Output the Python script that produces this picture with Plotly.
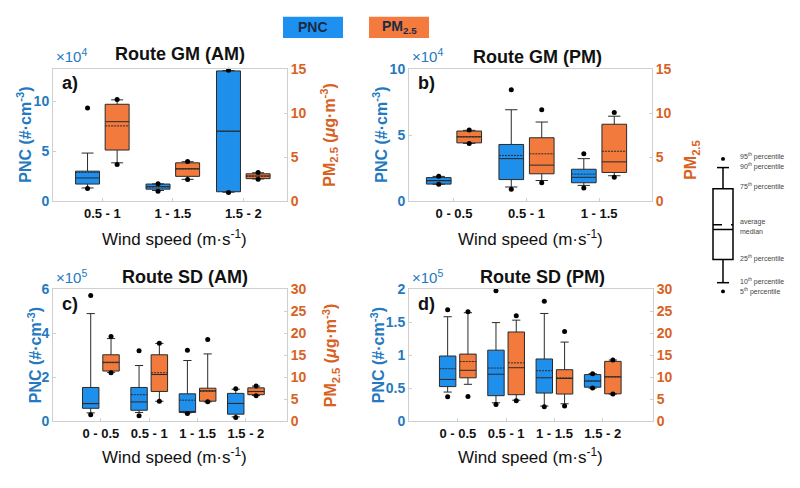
import plotly.graph_objects as go

# ---------------- DATA ----------------
# Panel a) Route GM (AM)   PNC in #/cm3, PM2.5 in ug/m3
A_CATS = ["0.5 - 1", "1 - 1.5", "1.5 - 2"]
A_PNC_P5 = [12900, 10300, 9000]
A_PNC_P10 = [13500, 11000, 9200]
A_PNC_Q1 = [17400, 12300, 9700]
A_PNC_MED = [23500, 14800, 70300]
A_PNC_MEAN = [29000, 14500, 70300]
A_PNC_Q3 = [30300, 17400, 130600]
A_PNC_P90 = [48400, 17600, 131000]
A_PNC_P95 = [93500, 17700, 131200]
A_PM_P5 = [4.19, 2.48, 2.50]
A_PM_P10 = [4.37, 2.50, 2.55]
A_PM_Q1 = [5.82, 2.84, 2.58]
A_PM_MED = [9.03, 3.71, 2.88]
A_PM_MEAN = [8.55, 3.65, 2.86]
A_PM_Q3 = [11.0, 4.37, 3.13]
A_PM_P90 = [11.5, 4.50, 3.25]
A_PM_P95 = [11.55, 4.52, 3.28]

# Panel b) Route GM (PM)
B_CATS = ["0 - 0.5", "0.5 - 1", "1 - 1.5"]
B_PNC_P5 = [12900, 9200, 10200]
B_PNC_P10 = [13000, 10900, 12100]
B_PNC_Q1 = [13100, 16500, 14100]
B_PNC_MED = [15800, 32300, 18200]
B_PNC_MEAN = [15500, 34700, 20600]
B_PNC_Q3 = [18000, 43000, 24300]
B_PNC_P90 = [18900, 69200, 32300]
B_PNC_P95 = [19000, 84200, 35900]
B_PM_P5 = [6.55, 2.11, 2.73]
B_PM_P10 = [6.57, 2.37, 2.91]
B_PM_Q1 = [6.63, 3.13, 3.28]
B_PM_MED = [7.32, 4.11, 4.48]
B_PM_MEAN = [7.30, 5.39, 5.68]
B_PM_Q3 = [7.97, 7.21, 8.74]
B_PM_P90 = [8.05, 8.99, 9.65]
B_PM_P95 = [8.08, 10.37, 10.08]

# Panel c) Route SD (AM)
C_CATS = ["0 - 0.5", "0.5 - 1", "1 - 1.5", "1.5 - 2"]
C_PNC_P5 = [28000, 24000, 34000, 16000]
C_PNC_P10 = [37000, 39000, 37000, 19000]
C_PNC_Q1 = [58000, 49000, 39000, 31000]
C_PNC_MED = [79000, 87000, 42000, 80000]
C_PNC_MEAN = [80000, 120000, 95000, 80000]
C_PNC_Q3 = [153000, 153000, 124000, 126000]
C_PNC_P90 = [490000, 253000, 276000, 145000]
C_PNC_P95 = [572000, 320000, 323000, 147000]
C_PM_P5 = [11.0, 4.5, 4.37, 5.78]
C_PM_P10 = [11.1, 4.5, 4.37, 5.80]
C_PM_Q1 = [11.4, 6.74, 4.52, 6.0]
C_PM_MED = [13.4, 10.6, 6.9, 6.74]
C_PM_MEAN = [13.3, 11.0, 6.74, 6.7]
C_PM_Q3 = [15.1, 15.1, 7.48, 7.56]
C_PM_P90 = [18.8, 17.7, 15.3, 7.95]
C_PM_P95 = [19.3, 17.75, 18.6, 8.0]

# Panel d) Route SD (PM)
D_CATS = ["0 - 0.5", "0.5 - 1", "1 - 1.5", "1.5 - 2"]
D_PNC_P5 = [37000, 25000, 21700, 50000]
D_PNC_P10 = [44000, 27700, 22700, 50000]
D_PNC_Q1 = [52300, 38500, 42500, 51400]
D_PNC_MED = [63200, 71100, 65700, 60700]
D_PNC_MEAN = [79500, 80500, 76500, 61000]
D_PNC_Q3 = [98800, 107700, 94300, 70600]
D_PNC_P90 = [158500, 149600, 163500, 72000]
D_PNC_P95 = [169000, 198000, 182200, 72000]
D_PM_P5 = [5.56, 4.6, 3.41, 6.15]
D_PM_P10 = [8.37, 4.74, 3.93, 6.15]
D_PM_Q1 = [9.85, 6.0, 6.15, 6.2]
D_PM_MED = [11.56, 12.15, 9.7, 10.1]
D_PM_MEAN = [13.56, 13.26, 9.85, 10.0]
D_PM_Q3 = [15.26, 20.3, 11.7, 13.6]
D_PM_P90 = [24.7, 23.0, 18.0, 13.9]
D_PM_P95 = [24.9, 24.0, 20.4, 13.9]

# Axis tick labels
A_LEFT_TICKS = [0, 50000, 100000]
A_LEFT_TEXT = ["0", "5", "10"]
B_LEFT_TICKS = [0, 50000, 100000]
B_LEFT_TEXT = ["0", "5", "10"]
C_LEFT_TICKS = [0, 200000, 400000, 600000]
C_LEFT_TEXT = ["0", "2", "4", "6"]
D_LEFT_TICKS = [0, 50000, 100000, 150000, 200000]
D_LEFT_TEXT = ["0", "0.5", "1", "1.5", "2"]

# ---------------- STYLE ----------------
W, H = 800, 488
FONT = "Arial, Liberation Sans, sans-serif"
BLUE_FILL = "#1f8fec"
ORANGE_FILL = "#f27a3c"
BLUE_TXT = "#2479bf"
ORANGE_TXT = "#d8621f"
FRAME = "#cfcfcf"
BOXLINE = "#2a2a2a"


def fx(p):
    return p / W


def fy(p):
    return 1 - p / H


panels = [
    dict(tag="a)", title="Route GM (AM)", xd=(53, 287), yd=(63, 200), xr=(-0.70, 2.62),
         cats=A_CATS, lr=(0, 132600), lt=A_LEFT_TICKS, ltt=A_LEFT_TEXT, rr=(0, 15), rd=5, exp="4",
         pnc=(A_PNC_P5, A_PNC_P10, A_PNC_Q1, A_PNC_MED, A_PNC_MEAN, A_PNC_Q3, A_PNC_P90, A_PNC_P95),
         pm=(A_PM_P5, A_PM_P10, A_PM_Q1, A_PM_MED, A_PM_MEAN, A_PM_Q3, A_PM_P90, A_PM_P95),
         title_xy=(180, 48), ly=(24, 131), ry=(329, 131), xt=(174, 238), rtitle=True),
    dict(tag="b)", title="Route GM (PM)", xd=(409, 652), yd=(63, 200), xr=(-0.62, 2.73),
         cats=B_CATS, lr=(0, 100000), lt=B_LEFT_TICKS, ltt=B_LEFT_TEXT, rr=(0, 15), rd=5, exp="4",
         pnc=(B_PNC_P5, B_PNC_P10, B_PNC_Q1, B_PNC_MED, B_PNC_MEAN, B_PNC_Q3, B_PNC_P90, B_PNC_P95),
         pm=(B_PM_P5, B_PM_P10, B_PM_Q1, B_PM_MED, B_PM_MEAN, B_PM_Q3, B_PM_P90, B_PM_P95),
         title_xy=(537, 51), ly=(380, 131), ry=None, xt=(530, 238), rtitle=False),
    dict(tag="c)", title="Route SD (AM)", xd=(53, 287), yd=(291, 427), xr=(-0.99, 3.85),
         cats=C_CATS, lr=(0, 600000), lt=C_LEFT_TICKS, ltt=C_LEFT_TEXT, rr=(0, 30), rd=5, exp="5",
         pnc=(C_PNC_P5, C_PNC_P10, C_PNC_Q1, C_PNC_MED, C_PNC_MEAN, C_PNC_Q3, C_PNC_P90, C_PNC_P95),
         pm=(C_PM_P5, C_PM_P10, C_PM_Q1, C_PM_MED, C_PM_MEAN, C_PM_Q3, C_PM_P90, C_PM_P95),
         title_xy=(185, 278), ly=(35, 359), ry=(331, 359), xt=(174, 463), rtitle=True),
    dict(tag="d)", title="Route SD (PM)", xd=(409, 653), yd=(291, 427), xr=(-1.01, 4.04),
         cats=D_CATS, lr=(0, 200000), lt=D_LEFT_TICKS, ltt=D_LEFT_TEXT, rr=(0, 30), rd=5, exp="5",
         pnc=(D_PNC_P5, D_PNC_P10, D_PNC_Q1, D_PNC_MED, D_PNC_MEAN, D_PNC_Q3, D_PNC_P90, D_PNC_P95),
         pm=(D_PM_P5, D_PM_P10, D_PM_Q1, D_PM_MED, D_PM_MEAN, D_PM_Q3, D_PM_P90, D_PM_P95),
         title_xy=(542, 278), ly=(378, 359), ry=None, xt=(530, 463), rtitle=False),
]

OFFSET = 0.21
BOXW = 0.34

fig = go.Figure()
layout = dict(width=W, height=H, margin=dict(l=0, r=0, t=0, b=0),
              paper_bgcolor="white", plot_bgcolor="white", showlegend=False,
              font=dict(family=FONT))
annotations = []
shapes = []

for i, p in enumerate(panels):
    n = i + 1
    xa = "x" if n == 1 else f"x{n}"
    yl_n = 2 * n - 1
    yr_n = 2 * n
    yl = "y" if yl_n == 1 else f"y{yl_n}"
    yr = f"y{yr_n}"
    idx = list(range(len(p["cats"])))

    for series, off, fill, ax in ((p["pnc"], -OFFSET, BLUE_FILL, yl), (p["pm"], OFFSET, ORANGE_FILL, yr)):
        p5, p10, q1, med, mean, q3, p90, p95 = series
        xs = [k + off for k in idx]
        fig.add_trace(go.Box(
            x=xs, q1=q1, median=med, q3=q3, lowerfence=p10, upperfence=p90, mean=mean,
            boxmean=True, width=BOXW, whiskerwidth=0.5, boxpoints=False,
            fillcolor=fill, line=dict(color=BOXLINE, width=1),
            xaxis=xa, yaxis=ax, hoverinfo="skip"))
        fig.add_trace(go.Scatter(
            x=xs + xs, y=list(p5) + list(p95), mode="markers",
            marker=dict(color="black", size=5), xaxis=xa, yaxis=ax,
            cliponaxis=False, hoverinfo="skip"))

    xkey = "xaxis" if n == 1 else f"xaxis{n}"
    ylkey = "yaxis" if yl_n == 1 else f"yaxis{yl_n}"
    yrkey = f"yaxis{yr_n}"
    layout[xkey] = dict(domain=[fx(p["xd"][0]), fx(p["xd"][1])], anchor=yl, range=list(p["xr"]),
                        tickvals=idx, ticktext=p["cats"], showline=True, mirror=True,
                        linecolor=FRAME, ticks="inside", ticklen=3, tickcolor=FRAME,
                        tickfont=dict(size=13, color="#111111", weight="bold"),
                        showgrid=False, zeroline=False, fixedrange=True)
    layout[ylkey] = dict(domain=[fy(p["yd"][1]), fy(p["yd"][0])], anchor=xa, range=list(p["lr"]),
                         tickvals=p["lt"], ticktext=p["ltt"], showline=True, linecolor=FRAME,
                         ticks="inside", ticklen=3, tickcolor=FRAME,
                         tickfont=dict(size=14, color=BLUE_TXT, weight="bold"),
                         showgrid=False, zeroline=False)
    layout[yrkey] = dict(overlaying=yl, side="right", anchor=xa, range=list(p["rr"]), dtick=p["rd"],
                         showline=True, linecolor=FRAME, ticks="inside", ticklen=3, tickcolor=FRAME,
                         tickfont=dict(size=14, color=ORANGE_TXT, weight="bold"),
                         showgrid=False, zeroline=False)

    # title
    annotations.append(dict(text=f"<b>{p['title']}</b>", x=fx(p["title_xy"][0]), y=fy(p["title_xy"][1]),
                            xref="paper", yref="paper", showarrow=False, xanchor="center", yanchor="middle",
                            font=dict(size=18, color="#111111")))
    # panel tag
    annotations.append(dict(text=f"<b>{p['tag']}</b>", x=fx(p["xd"][0] + 7), y=fy(p["yd"][0] + 15),
                            xref="paper", yref="paper", showarrow=False, xanchor="left", yanchor="middle",
                            font=dict(size=18, color="#111111")))
    # exponent
    annotations.append(dict(text=f"×10<sup>{p['exp']}</sup>", x=fx(p["xd"][0] + 1), y=fy(p["yd"][0] - 2),
                            xref="paper", yref="paper", showarrow=False, xanchor="left", yanchor="bottom",
                            font=dict(size=15, color=BLUE_TXT)))
    # left y title
    annotations.append(dict(text="<b>PNC (#·cm<sup>-3</sup>)</b>", x=fx(p["ly"][0]), y=fy(p["ly"][1]),
                            xref="paper", yref="paper", showarrow=False, textangle=-90,
                            xanchor="center", yanchor="middle", font=dict(size=16, color=BLUE_TXT)))
    # right y title
    if p["rtitle"]:
        annotations.append(dict(text="<b>PM<sub>2.5</sub> (<i>μ</i>g·m<sup>-3</sup>)</b>",
                                x=fx(p["ry"][0]), y=fy(p["ry"][1]), xref="paper", yref="paper",
                                showarrow=False, textangle=-90, xanchor="center", yanchor="middle",
                                font=dict(size=16, color=ORANGE_TXT)))
    # x title
    annotations.append(dict(text="Wind speed (m·s<sup>-1</sup>)", x=fx(p["xt"][0]), y=fy(p["xt"][1]),
                            xref="paper", yref="paper", showarrow=False, xanchor="center", yanchor="middle",
                            font=dict(size=17, color="#111111")))

# fragment of panel b right-axis title (rest hidden behind the key)
annotations.append(dict(text="<b>PM<sub>2.5</sub></b>", x=fx(692), y=fy(157), xref="paper", yref="paper",
                        showarrow=False, textangle=-90, xanchor="center", yanchor="middle",
                        font=dict(size=16, color=ORANGE_TXT)))

# top legend
for (x0, x1, col, txt) in ((283, 343, "#1e90f0", "<b>PNC</b>"), (369, 429, "#f47a3e", "<b>PM<sub>2.5</sub></b>")):
    shapes.append(dict(type="rect", xref="paper", yref="paper", x0=fx(x0), x1=fx(x1), y0=fy(31), y1=fy(9),
                       fillcolor=col, line=dict(width=0), layer="above"))
    annotations.append(dict(text=txt, x=fx((x0 + x1) / 2), y=fy(20), xref="paper", yref="paper",
                            showarrow=False, xanchor="center", yanchor="middle",
                            font=dict(size=14, color="#1c2a44")))

# box-plot key
KX = 723
key_line = dict(color="black", width=1.5)
shapes += [
    dict(type="rect", xref="paper", yref="paper", x0=fx(713), x1=fx(733), y0=fy(260), y1=fy(187),
         line=key_line, fillcolor="white"),
    dict(type="line", xref="paper", yref="paper", x0=fx(KX), x1=fx(KX), y0=fy(187), y1=fy(165), line=key_line),
    dict(type="line", xref="paper", yref="paper", x0=fx(KX), x1=fx(KX), y0=fy(284), y1=fy(260), line=key_line),
    dict(type="line", xref="paper", yref="paper", x0=fx(717), x1=fx(729), y0=fy(165), y1=fy(165), line=key_line),
    dict(type="line", xref="paper", yref="paper", x0=fx(717), x1=fx(729), y0=fy(284), y1=fy(284), line=key_line),
    dict(type="line", xref="paper", yref="paper", x0=fx(713), x1=fx(733), y0=fy(229), y1=fy(229), line=key_line),
    dict(type="line", xref="paper", yref="paper", x0=fx(713), x1=fx(733), y0=fy(224), y1=fy(224),
         line=dict(color="black", width=1.5, dash="dash")),
    dict(type="circle", xref="paper", yref="paper", x0=fx(KX - 2), x1=fx(KX + 2), y0=fy(158), y1=fy(154),
         fillcolor="black", line=dict(width=0)),
    dict(type="circle", xref="paper", yref="paper", x0=fx(KX - 2), x1=fx(KX + 2), y0=fy(295), y1=fy(291),
         fillcolor="black", line=dict(width=0)),
]
key_labels = [("95<sup>th</sup> percentile", 154), ("90<sup>th</sup> percentile", 164),
              ("75<sup>th</sup> percentile", 185), ("average", 221), ("median", 231),
              ("25<sup>th</sup> percentile", 259), ("10<sup>th</sup> percentile", 283),
              ("5<sup>th</sup> percentile", 293)]
for txt, yy in key_labels:
    annotations.append(dict(text=txt, x=fx(738), y=fy(yy), xref="paper", yref="paper", showarrow=False,
                            xanchor="left", yanchor="middle", font=dict(size=7, color="#444444")))

layout["annotations"] = annotations
layout["shapes"] = shapes
fig.update_layout(**layout)
fig.write_html("out.html")
